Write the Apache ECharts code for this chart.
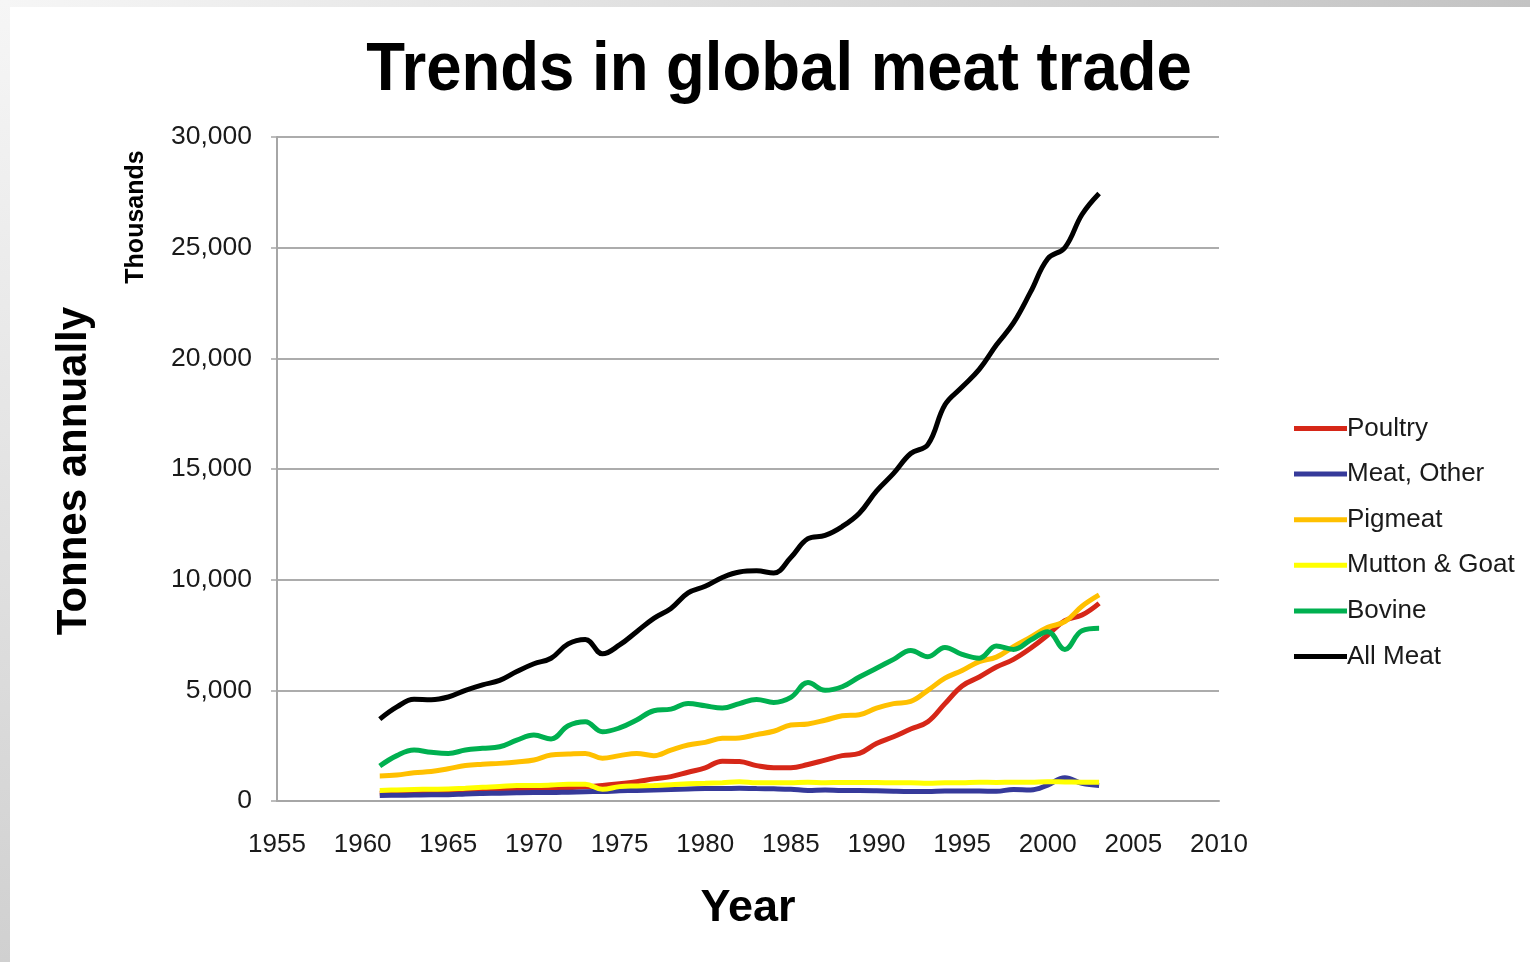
<!DOCTYPE html>
<html>
<head>
<meta charset="utf-8">
<script src="https://cdn.jsdelivr.net/npm/echarts@6/dist/echarts.min.js"></script>
<style>
html,body{margin:0;padding:0;background:#fff;}
#chart{width:1530px;height:962px;}
</style>
</head>
<body>
<div id="chart"></div>
<script>
const years = [1961,1962,1963,1964,1965,1966,1967,1968,1969,1970,1971,1972,1973,1974,1975,1976,1977,1978,1979,1980,1981,1982,1983,1984,1985,1986,1987,1988,1989,1990,1991,1992,1993,1994,1995,1996,1997,1998,1999,2000,2001,2002,2003];
const poultry = [350,380,400,420,450,480,500,520,540,560,580,600,640,700,780,870,1000,1100,1300,1500,1800,1780,1600,1500,1500,1650,1850,2050,2150,2600,2900,3250,3580,4400,5200,5600,6050,6400,6900,7500,8150,8400,8930];
const meatOther = [250,260,270,280,280,320,340,350,370,380,380,400,420,430,460,480,500,520,540,560,560,580,560,550,530,480,500,470,470,460,440,430,430,450,450,450,440,520,500,720,1050,800,700];
const pigmeat = [1130,1170,1280,1330,1460,1600,1660,1700,1760,1850,2080,2120,2150,1930,2050,2150,2050,2300,2530,2650,2830,2850,3000,3150,3430,3480,3650,3850,3900,4200,4400,4500,5000,5550,5900,6300,6500,6970,7400,7850,8100,8800,9310];
const mutton = [480,500,520,530,540,580,620,650,700,700,720,760,760,530,650,680,700,730,780,800,830,870,820,820,830,850,830,840,840,840,820,830,800,820,830,850,840,850,850,870,860,850,850];
const bovine = [1580,2050,2300,2200,2150,2300,2380,2450,2750,2980,2800,3400,3580,3130,3300,3660,4080,4150,4400,4300,4200,4400,4590,4450,4680,5350,5000,5160,5600,6000,6400,6800,6520,6940,6620,6450,7000,6850,7270,7650,6850,7690,7800];
const allMeat = [3700,4250,4600,4580,4700,5000,5250,5450,5850,6200,6450,7100,7300,6650,7050,7650,8250,8700,9400,9700,10100,10350,10400,10300,11000,11850,12000,12400,13000,14000,14800,15700,16100,17900,18700,19500,20600,21600,23000,24500,25000,26500,27450];

const seriesNames = ['Poultry','Meat, Other','Pigmeat','Mutton & Goat','Bovine','All Meat'];
const seriesValues = [poultry, meatOther, pigmeat, mutton, bovine, allMeat];
const seriesColors = ['#d62718','#363a9a','#ffc000','#ffff00','#00b050','#000000'];

const font = '"Liberation Sans", Arial, Helvetica, sans-serif';
const chart = echarts.init(document.getElementById('chart'));

const series = seriesNames.map((name, i) => ({
  name: name,
  type: 'line',
  data: years.map((y, k) => [y, seriesValues[i][k]]),
  smooth: 0.4,
  showSymbol: false,
  symbol: 'none',
  lineStyle: { width: 5, color: seriesColors[i] },
  itemStyle: { color: seriesColors[i] },
  z: 2 + i
}));

chart.setOption({
  animation: false,
  backgroundColor: '#ffffff',
  textStyle: { fontFamily: font },
  grid: { left: 277, right: 311, top: 137, bottom: 161, containLabel: false },
  xAxis: {
    type: 'value', min: 1955, max: 2010, interval: 5,
    axisLine: { show: true, lineStyle: { color: '#a6a6a6', width: 2 } },
    axisTick: { show: false },
    splitLine: { show: false },
    axisLabel: { color: '#1a1a1a', fontSize: 26, fontFamily: font, margin: 31, formatter: v => String(v) }
  },
  yAxis: {
    type: 'value', min: 0, max: 30000, interval: 5000,
    axisLine: { show: true, lineStyle: { color: '#a6a6a6', width: 2 } },
    axisTick: { show: true, length: 6, inside: false, lineStyle: { color: '#a6a6a6', width: 1.5 } },
    splitLine: { show: true, lineStyle: { color: '#acacac', width: 2 } },
    axisLabel: { color: '#1a1a1a', fontSize: 26.5, fontFamily: font, margin: 25, padding: [5, 0, 0, 0],
      formatter: v => v.toLocaleString('en-US') }
  },
  legend: {
    orient: 'vertical',
    left: 1289, top: 408,
    icon: 'rect',
    itemWidth: 53, itemHeight: 5,
    itemGap: 14.6,
    data: seriesNames,
    textStyle: { fontSize: 26, color: '#1a1a1a', fontFamily: font, lineHeight: 31, padding: [0,0,0,-5] }
  },
  graphic: [
    { type: 'rect', left: 0, top: 0, z: -10, shape: { width: 1530, height: 7 },
      style: { fill: new echarts.graphic.LinearGradient(0,0,1,0,[{offset:0,color:'#f6f6f6'},{offset:1,color:'#c3c3c3'}]) } },
    { type: 'rect', left: 0, top: 0, z: -10, shape: { width: 10, height: 962 },
      style: { fill: new echarts.graphic.LinearGradient(0,0,0,1,[{offset:0,color:'#f6f6f6'},{offset:1,color:'#d0d0d0'}]) } },
    { type: 'text', x: 779, y: 71, z: 10, scaleY: 1.08,
      style: { text: 'Trends in global meat trade', font: 'bold 63.5px ' + font, fill: '#000', align: 'center', verticalAlign: 'middle' } },
    { type: 'text', x: 136, y: 217, rotation: Math.PI / 2, z: 10,
      style: { text: 'Thousands', font: 'bold 25px ' + font, fill: '#000', align: 'center', verticalAlign: 'middle' } },
    { type: 'text', x: 74, y: 471, rotation: Math.PI / 2, z: 10,
      style: { text: 'Tonnes annually', font: 'bold 42px ' + font, fill: '#000', align: 'center', verticalAlign: 'middle' } },
    { type: 'text', x: 748, y: 909, z: 10,
      style: { text: 'Year', font: 'bold 45px ' + font, fill: '#000', align: 'center', verticalAlign: 'middle' } }
  ],
  series: series
});
</script>
</body>
</html>
